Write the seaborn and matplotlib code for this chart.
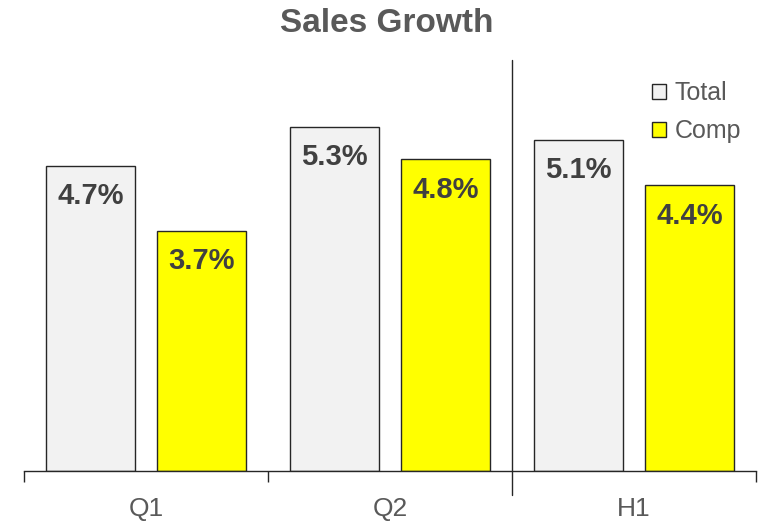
import matplotlib
matplotlib.use("Agg")
import matplotlib.pyplot as plt
import matplotlib.transforms as mtransforms
import seaborn as sns
import pandas as pd

# Data
periods = ["Q1", "Q2", "H1"]
series = ["Total", "Comp"]
total_growth = [4.7, 5.3, 5.1]
comp_growth = [3.7, 4.8, 4.4]
colors = {"Total": "#F2F2F2", "Comp": "#FFFF00"}

df = pd.DataFrame({
    "period": periods * 2,
    "series": ["Total"] * 3 + ["Comp"] * 3,
    "growth": total_growth + comp_growth,
})

sns.set_theme(style="white")
plt.rcParams["font.family"] = ["Liberation Sans", "DejaVu Sans"]

fig = plt.figure(figsize=(7.58, 5.21), dpi=100)
ax = fig.add_axes([24 / 758, 50 / 521, 732 / 758, 411 / 521])

sns.barplot(data=df, x="period", y="growth", hue="series", order=periods,
            hue_order=series, palette=colors, width=0.91, gap=0.2,
            edgecolor="#262626", linewidth=1.0, saturation=1, ax=ax)

ax.set_xlim(-0.5, 2.5)
ax.set_ylim(0, 411 / 65)

# Value labels inside the top of each bar
for container, vals in zip(ax.containers, [total_growth, comp_growth]):
    for patch, v in zip(container.patches, vals):
        cx = patch.get_x() + patch.get_width() / 2
        ax.annotate(f"{v:.1f}%", xy=(cx, v), xytext=(0, -12),
                    textcoords="offset points", ha="center", va="top",
                    fontsize=21, fontweight="bold", color="#404040")

# Axes styling
for side in ["top", "right", "left"]:
    ax.spines[side].set_visible(False)
ax.spines["bottom"].set_color("#262626")
ax.spines["bottom"].set_linewidth(1.0)
ax.set_yticks([])
ax.set_xlabel("")
ax.set_ylabel("")
ax.set_xticks([0, 1, 2])
ax.set_xticklabels(periods, fontsize=19, color="#595959")
ax.tick_params(axis="x", which="major", length=0, pad=19)
ax.set_xticks([-0.5, 0.5, 2.5], minor=True)
ax.tick_params(axis="x", which="minor", bottom=True, length=8, width=1.0,
               color="#262626", direction="out")

# Divider between quarters and half-year
trans = mtransforms.blended_transform_factory(ax.transData, ax.transAxes)
ax.plot([1.5, 1.5], [-24 / 411, 1.0], transform=trans, color="#262626",
        linewidth=1.0, clip_on=False)

# Legend
handles = [plt.Rectangle((0, 0), 1, 1, facecolor=colors[s], edgecolor="#262626",
                         linewidth=1.0) for s in series]
leg = ax.legend(handles, series, loc="upper right", bbox_to_anchor=(1.0, 0.985),
                frameon=False, fontsize=18, handlelength=0.55, handleheight=0.55,
                handletextpad=0.35, labelspacing=0.55, borderaxespad=0.2)
for t in leg.get_texts():
    t.set_color("#595959")

fig.text(387 / 758, 1 - 24 / 521, "Sales Growth", ha="center", va="center",
         fontsize=24, fontweight="bold", color="#595959")

fig.savefig("out.png", dpi=100)
